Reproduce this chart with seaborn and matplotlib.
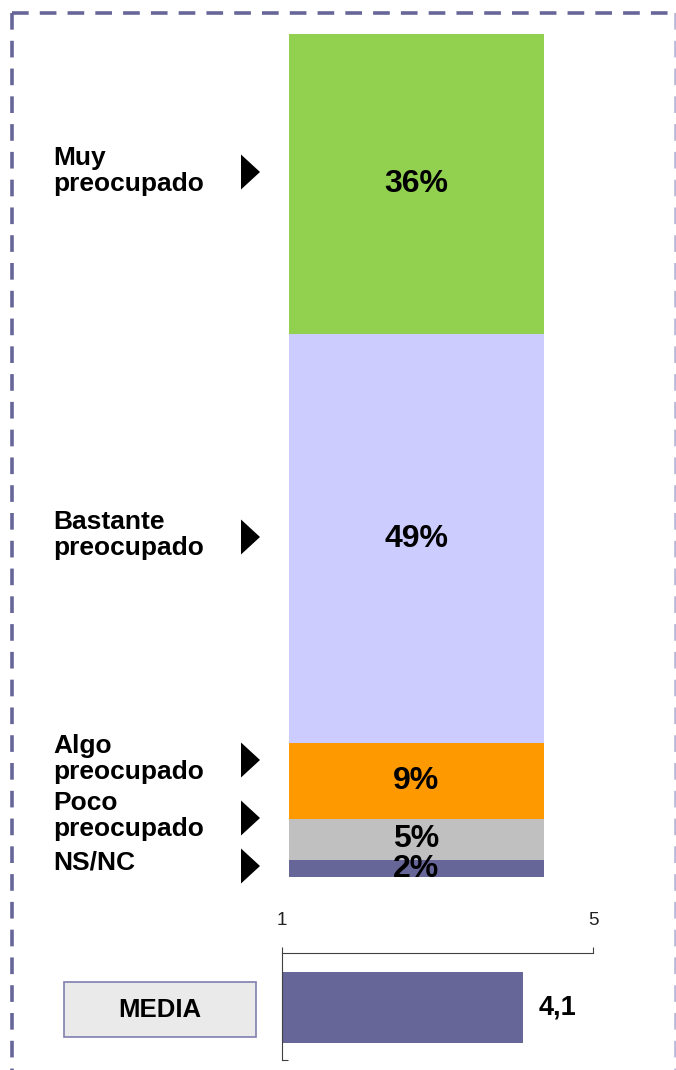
import matplotlib
matplotlib.use("Agg")
import matplotlib.pyplot as plt
from matplotlib.patches import Polygon, Rectangle
import numpy as np
import pandas as pd
import seaborn as sns

# ----------------------------------------
# datos
# ----------------------------------------
categorias = ["Muy\npreocupado", "Bastante\npreocupado", "Algo\npreocupado",
              "Poco\npreocupado", "NS/NC"]
porcentajes = [36, 49, 9, 5, 2]
colores = ["#92D050", "#CCCCFF", "#FF9900", "#C0C0C0", "#666699"]

media_label = "MEDIA"
media_valor = 4.1
media_texto = "4,1"
escala_min, escala_max = 1, 5

# ----------------------------------------
# estilo
# ----------------------------------------
sns.set_theme(style="white")
plt.rcParams["font.family"] = ["Liberation Sans", "DejaVu Sans"]
plt.rcParams["lines.scale_dashes"] = False

W, H = 676, 1070
fig = plt.figure(figsize=(W / 100, H / 100), dpi=100)


def px_axes(left, top, right, bottom):
    return fig.add_axes([left / W, 1 - bottom / H, (right - left) / W, (bottom - top) / H])


# capa de decoracion en pixeles
deco = fig.add_axes([0, 0, 1, 1])
deco.set_xlim(0, W)
deco.set_ylim(H, 0)
deco.axis("off")

# borde discontinuo
borde = dict(color="#666699", lw=2.6, linestyle=(0, (12, 8)), solid_capstyle="butt")
deco.plot([12, 12], [13, H + 5], **borde)
deco.plot([12, W + 5], [13, 13], **borde)
deco.plot([675.5, 675.5], [13, H + 5], color="#B8B8D8", lw=2.6, linestyle=(0, (12, 8)))

# ----------------------------------------
# barra apilada
# ----------------------------------------
ax = px_axes(289, 34, 544, 877)
df = pd.DataFrame({"cat": categorias, "pct": porcentajes, "color": colores})
df_stack = df.iloc[::-1].reset_index(drop=True)  # de abajo a arriba
df_stack["acum"] = df_stack["pct"].cumsum()
df_stack["centro"] = df_stack["acum"] - df_stack["pct"] / 2

# dibujar acumulados de mayor a menor para superponer
for _, fila in df_stack.iloc[::-1].iterrows():
    sns.barplot(x=["total"], y=[fila["acum"]], color=fila["color"], saturation=1,
                width=1, ax=ax, edgecolor="none", linewidth=0)

for _, fila in df_stack.iterrows():
    ax.text(0, fila["centro"], f"{fila['pct']}%", ha="center", va="center",
            fontsize=23, fontweight="bold", color="black")

ax.set_xlim(-0.5, 0.5)
ax.set_ylim(0, df_stack["acum"].iloc[-1])
ax.axis("off")

# etiquetas de categorias y flechas
etiqueta_y = [171, 535, 759, 816, 863]
flecha_y = [172, 537, 760, 818, 866]
for cat, ty, fy in zip(categorias, etiqueta_y, flecha_y):
    deco.text(53, ty, cat, ha="left", va="center", fontsize=19, fontweight="bold",
              linespacing=1.1, color="black")
    deco.add_patch(Polygon([[241, fy - 17.5], [260, fy], [241, fy + 17.5]],
                           closed=True, facecolor="black", edgecolor="none"))

# ----------------------------------------
# media
# ----------------------------------------
axm = px_axes(282, 953, 593, 1060)
sns.barplot(x=[media_valor], y=[media_label], orient="h", color="#666699",
            saturation=1, width=1, ax=axm, edgecolor="none", linewidth=0)
axm.bar_label(axm.containers[0], labels=[media_texto], padding=11,
              fontsize=19.5, fontweight="bold", color="black")
axm.set_xlim(escala_min, escala_max)
axm.set_ylim(0.74, -0.76)
axm.xaxis.tick_top()
axm.set_xticks([escala_min, escala_max])
axm.set_xticklabels([str(escala_min), str(escala_max)])
axm.tick_params(axis="x", top=True, direction="out", length=4, width=0.8,
                color="#404040", pad=13, labelsize=13.5, labelcolor="#222222")
axm.set_yticks([0.74])
axm.tick_params(axis="y", left=True, direction="in", length=4, width=0.8,
                color="#404040", labelleft=False)
axm.set_xlabel("")
axm.set_ylabel("")
for lado in ["right", "bottom"]:
    axm.spines[lado].set_visible(False)
for lado in ["top", "left"]:
    axm.spines[lado].set_visible(True)
    axm.spines[lado].set_color("#404040")
    axm.spines[lado].set_linewidth(0.8)

# caja MEDIA
deco.add_patch(Rectangle((64, 982), 192, 55, facecolor="#EAEAEA",
                         edgecolor="#7F7FAF", lw=1.2))
deco.text(160, 1010, media_label, ha="center", va="center", fontsize=18.5,
          fontweight="bold", color="black")

fig.savefig("out.png", dpi=100)
